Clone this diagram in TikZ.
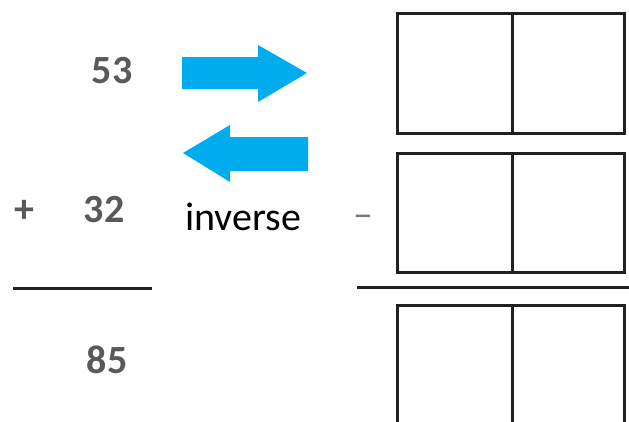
\documentclass[tikz,border=0pt]{standalone}
\usepackage{fontspec}
\setmainfont{Carlito}
\definecolor{numgray}{RGB}{89,89,89}
\definecolor{arrowblue}{RGB}{0,172,238}
\definecolor{boxline}{RGB}{35,31,32}
\begin{document}
\begin{tikzpicture}[x=1pt,y=-1pt,
  num/.style={font=\fontsize{40}{40}\selectfont\bfseries, text=numgray, inner sep=0pt, anchor=base},
  lbl/.style={font=\fontsize{40}{40}\selectfont, text=black, inner sep=0pt, anchor=base west},
  boxedge/.style={draw=boxline, line width=3pt},
  arrowshape/.style={fill=arrowblue, draw=none}]
\useasboundingbox (0,0) rectangle (629,421);
\clip (0,0) rectangle (629,421);
% numbers
\node[num] (n53) at (112,83) {53};
\node[num] (plus) at (24,222) {+};
\node[num] (n32) at (104,222) {32};
\node[num] (n85) at (107,373) {85};
\draw[boxedge] (13,288) -- (152,288);
% arrows
\fill[arrowshape] (182,57) -- (258,57) -- (258,45) -- (307,73) -- (258,102) -- (258,89) -- (182,89) -- cycle;
\fill[arrowshape] (183,153) -- (230,125) -- (230,137) -- (308,137) -- (308,171) -- (230,171) -- (230,182) -- cycle;
\node[lbl] (inv) at (185,230) {inverse};
\node[font=\fontsize{40}{40}\selectfont, text=numgray!80, inner sep=0pt] (minus) at (363,221) {–};
% boxes
\draw[boxedge] (397,13) rectangle (624,133);
\draw[boxedge] (512,13) -- (512,133);
\draw[boxedge] (397,153) rectangle (624,272);
\draw[boxedge] (512,153) -- (512,272);
\draw[boxedge] (357,287) -- (629,287);
\draw[boxedge] (397,440) -- (397,305) -- (624,305) -- (624,440);
\draw[boxedge] (512,305) -- (512,440);
\end{tikzpicture}
\end{document}
